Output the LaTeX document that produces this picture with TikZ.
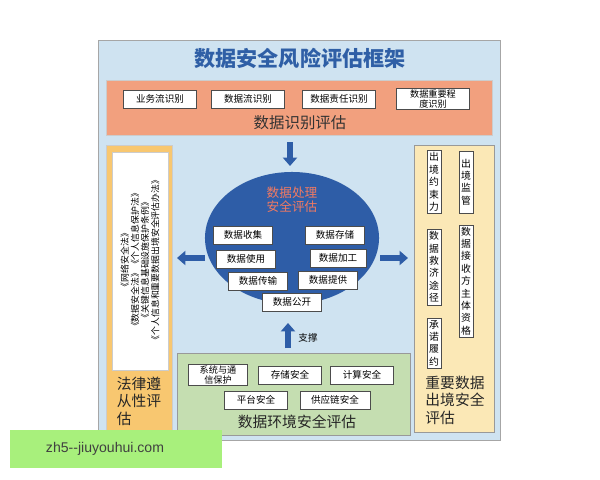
\documentclass[tikz,border=0pt]{standalone}
\usepackage{fontspec}
\setmainfont{Noto Sans CJK SC}
\newfontfamily\latinsans{Liberation Sans}
\usepackage{tikz}
\usetikzlibrary{arrows.meta}
\definecolor{frameblue}{HTML}{CFE3F1}
\definecolor{titleblue}{HTML}{2F5FA6}
\definecolor{bandorange}{HTML}{F2A07E}
\definecolor{legalorange}{HTML}{F8C770}
\definecolor{exitcream}{HTML}{FBE8B6}
\definecolor{envgreen}{HTML}{C5DEB1}
\definecolor{ellblue}{HTML}{2E5DA7}
\definecolor{markgreen}{HTML}{A8F07C}
\definecolor{salmon}{HTML}{F27A62}
\tikzset{
  itembox/.style={draw=black!70, fill=white, minimum height=13pt, inner sep=1pt, font=\fontsize{6.8}{7.2}\selectfont, align=center},
  vbox/.style={draw=black!70, fill=white, inner sep=1.5pt, font=\fontsize{7}{8.8}\selectfont, align=center},
  bigarrow/.style={-{Triangle[length=6pt,width=10pt]}, line width=4pt, ellblue},
}
\begin{document}
\begin{tikzpicture}[x=0.025cm, y=-0.025cm]
\useasboundingbox (0,0) rectangle (600,480);
% outer frame
\draw[black!35, fill=frameblue] (98,40) rectangle (500,440);
\node[font=\fontsize{15}{15}\selectfont\bfseries, text=titleblue] (title) at (300,58) {数据安全风险评估框架};
% identification band
\draw[black!20, fill=bandorange] (106,80) rectangle (492,135);
\node[itembox, minimum width=52pt] (flowbiz) at (160,99) {业务流识别};
\node[itembox, minimum width=52pt] (flowdata) at (248,99) {数据流识别};
\node[itembox, minimum width=52pt] (duty) at (339,99) {数据责任识别};
\node[itembox, minimum width=52pt, font=\fontsize{6.5}{6.9}\selectfont] (level) at (433,99) {数据重要程\\度识别};
\node[font=\fontsize{11}{11}\selectfont, text=black!80] (identlabel) at (300,123) {数据识别评估};
% legal panel
\draw[black!20, fill=legalorange] (106,145) rectangle (172,432);
\draw[black!20, fill=white] (112,152) rectangle (168,370);
\node[rotate=90, font=\fontsize{6.3}{7.2}\selectfont, align=center] (laws) at (140,260)
  {《网络安全法》\\《数据安全法》《个人信息保护法》\\《关键信息基础设施保护条例》\\《个人信息和重要数据出境安全评估办法》};
\node[font=\fontsize{10.5}{12.5}\selectfont, align=left, text=black!85] (legallabel) at (139,401) {法律遵\\从性评\\估};
% export panel
\draw[black!40, fill=exitcream] (414,145) rectangle (494,432);
\node[vbox, minimum height=44pt] (bind) at (434,182) {出\\境\\约\\束\\力};
\node[vbox, minimum height=44pt] (super) at (466,182) {出\\境\\监\\管};
\node[vbox, minimum height=54pt] (remedy) at (434,267) {数\\据\\救\\济\\途\\径};
\node[vbox] (receiver) at (466,281) {数\\据\\接\\收\\方\\主\\体\\资\\格};
\node[vbox] (promise) at (434,343) {承\\诺\\履\\约};
\node[font=\fontsize{10.5}{12.5}\selectfont, align=left, text=black!85] (exitlabel) at (455,400) {重要数据\\出境安全\\评估};
% processing ellipse
\fill[ellblue] (292,238) ellipse [x radius=2.175cm, y radius=1.65cm];
\node[font=\fontsize{9}{10}\selectfont, text=salmon, align=center] (proclabel) at (292,200) {数据处理\\安全评估};
\node[itembox, minimum width=42pt] (collect) at (243,235) {数据收集};
\node[itembox, minimum width=42pt] (store) at (335,235) {数据存储};
\node[itembox, minimum width=42pt] (use) at (246,259) {数据使用};
\node[itembox, minimum width=40pt] (process) at (338,258) {数据加工};
\node[itembox, minimum width=42pt] (transfer) at (258,281) {数据传输};
\node[itembox, minimum width=42pt] (provide) at (328,280) {数据提供};
\node[itembox, minimum width=42pt] (publish) at (292,302) {数据公开};
% arrows
\coordinate (downtop) at (290,142);
\coordinate (downend) at (290,166);
\draw[bigarrow] (downtop) -- (downend);
\coordinate (leftstart) at (205,258);
\coordinate (leftend) at (177,258);
\draw[bigarrow] (leftstart) -- (leftend);
\coordinate (rightstart) at (380,258);
\coordinate (rightend) at (408,258);
\draw[bigarrow] (rightstart) -- (rightend);
\coordinate (upstart) at (288,348);
\coordinate (upend) at (288,323);
\draw[bigarrow] (upstart) -- (upend);
\node[font=\fontsize{6.8}{7}\selectfont] (support) at (308,338) {支撑};
% environment panel
\draw[black!40, fill=envgreen] (177,353) rectangle (410,435);
\node[itembox, minimum width=42pt, font=\fontsize{6.5}{6.9}\selectfont] (comms) at (218,375) {系统与通\\信保护};
\node[itembox, minimum width=45pt] (storesec) at (290,375) {存储安全};
\node[itembox, minimum width=45pt] (compute) at (362,375) {计算安全};
\node[itembox, minimum width=45pt] (platform) at (256,400) {平台安全};
\node[itembox, minimum width=50pt] (supply) at (335,400) {供应链安全};
\node[font=\fontsize{10.5}{11}\selectfont, text=black!85] (envlabel) at (297,422) {数据环境安全评估};
% watermark
\fill[markgreen] (10,430) rectangle (222,468);
\node[font=\latinsans\fontsize{10}{11}\selectfont, text=black!75] (mark) at (105,449) {zh5--jiuyouhui.com};
\end{tikzpicture}
\end{document}
